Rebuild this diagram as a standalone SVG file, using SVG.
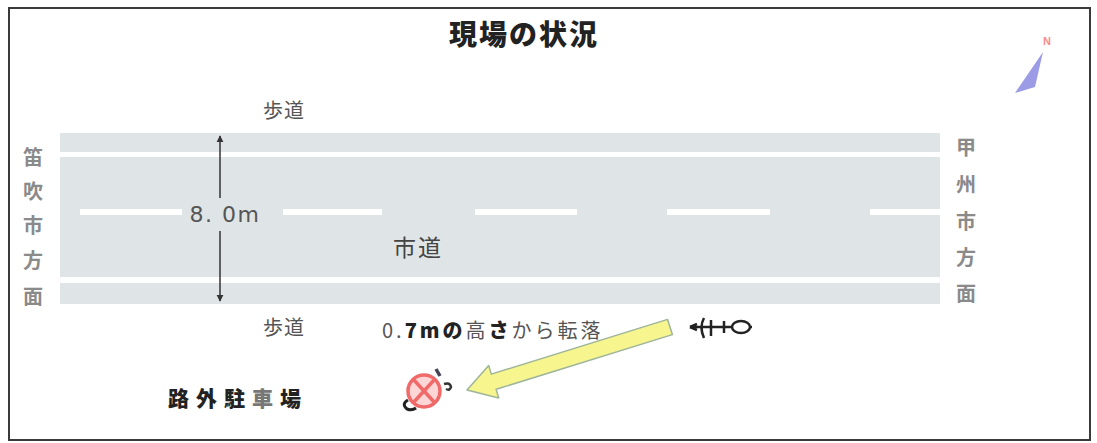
<svg xmlns="http://www.w3.org/2000/svg" width="1097" height="443" viewBox="0 0 1097 443">
  <defs>
    <style>
      .jp { font-family: "Noto Sans CJK JP", "Noto Sans", sans-serif; }
      .label { fill: #555; font-size: 20px; }
      .side { fill: #8a8a8a; font-size: 20px; font-weight: bold; text-anchor: middle; }
      .band { fill: #dfe4e6; }
      .gap { fill: #ffffff; }
      .dash { fill: #ffffff; }
    </style>
    <marker id="tipDim" viewBox="0 0 10 10" refX="9" refY="5" markerWidth="7" markerHeight="8" orient="auto-start-reverse" markerUnits="userSpaceOnUse">
      <path d="M0,0 L10,5 L0,10 z" fill="#333"/>
    </marker>
  </defs>

  <rect width="1097" height="443" fill="#ffffff"/>
  <!-- outer frame -->
  <rect x="9" y="8" width="1081" height="432" fill="none" stroke="#3a3a3a" stroke-width="2"/>

  <!-- title -->
  <g id="title">
    <text class="jp" x="524" y="45" font-size="28" font-weight="900" fill="#222" text-anchor="middle" letter-spacing="2">現場の状況</text>
  </g>

  <!-- north mark -->
  <g id="north">
    <text x="1047" y="45" font-family="Liberation Sans, sans-serif" font-size="11" font-weight="bold" fill="#ff8a8a" text-anchor="middle">N</text>
    <polygon points="1043,52 1015,93 1035,87" fill="#9c9ce6"/>
  </g>

  <!-- road cross-section -->
  <g id="road">
    <rect class="band" x="60" y="133" width="880" height="19"/>
    <rect class="gap" x="60" y="152" width="880" height="5"/>
    <rect class="band" x="60" y="157" width="880" height="120"/>
    <rect class="gap" x="60" y="277" width="880" height="6"/>
    <rect class="band" x="60" y="283" width="880" height="21"/>
    <!-- centre line -->
    <rect class="dash" x="80" y="209" width="102" height="6"/>
    <rect class="dash" x="283" y="209" width="99" height="6"/>
    <rect class="dash" x="475" y="209" width="102" height="6"/>
    <rect class="dash" x="667" y="209" width="103" height="6"/>
    <rect class="dash" x="870" y="209" width="70" height="6"/>
  </g>

  <g id="sidewalk-top">
    <text class="jp label" x="284" y="118" text-anchor="middle" letter-spacing="1">歩道</text>
  </g>
  <g id="sidewalk-bottom">
    <text class="jp label" x="284" y="335" text-anchor="middle" letter-spacing="1">歩道</text>
  </g>
  <g id="city-road">
    <text class="jp" x="418" y="256" font-size="23" fill="#444" text-anchor="middle" letter-spacing="2">市道</text>
  </g>

  <g id="west">
    <text class="jp side" x="33" y="165">笛</text>
    <text class="jp side" x="33" y="199">吹</text>
    <text class="jp side" x="33" y="233">市</text>
    <text class="jp side" x="33" y="268">方</text>
    <text class="jp side" x="33" y="304">面</text>
  </g>
  <g id="east">
    <text class="jp side" x="966" y="155">甲</text>
    <text class="jp side" x="966" y="192">州</text>
    <text class="jp side" x="966" y="229">市</text>
    <text class="jp side" x="966" y="265">方</text>
    <text class="jp side" x="966" y="301">面</text>
  </g>

  <g id="fall-note">
    <text class="jp" x="382" y="338" font-size="20" fill="#555" letter-spacing="3">0.<tspan font-weight="900" fill="#222">7m</tspan><tspan font-weight="900" fill="#222">の</tspan>高<tspan font-weight="900" fill="#222">さ</tspan>から転落</text>
  </g>

  <g id="parking">
    <text class="jp" x="168" y="406" font-size="21" font-weight="900" fill="#222" letter-spacing="7">路外駐<tspan fill="#777">車</tspan>場</text>
  </g>

  <!-- motorcycle before the fall (top view) -->
  <g id="motorcycle" stroke="#222" fill="none" stroke-width="2.5">
    <line x1="690" y1="327" x2="752" y2="327"/>
    <path d="M704,318 Q699,327 704,338"/>
    <line x1="711" y1="320" x2="711" y2="336"/>
    <line x1="724" y1="321" x2="724" y2="333"/>
    <ellipse cx="741" cy="327" rx="9" ry="6" fill="#fff"/>
    <path d="M690,327 l7,-3 M690,327 l7,3"/>
  </g>

  <!-- fallen motorcycle in the parking lot -->
  <g id="crash">
    <circle cx="424" cy="391" r="16" fill="#ffd6d6" stroke="#f06a6a" stroke-width="3.5"/>
    <line x1="413" y1="379" x2="435" y2="403" stroke="#f06a6a" stroke-width="3.5"/>
    <line x1="435" y1="379" x2="413" y2="403" stroke="#f06a6a" stroke-width="3.5"/>
    <path d="M408,400 q-7,4 -1,9 q5,2 9,-1" fill="none" stroke="#222" stroke-width="3"/>
    <path d="M436,369 l4,7" stroke="#445" stroke-width="3.5"/>
    <path d="M444,384 q6,-2 7,3 q-1,4 -5,2" fill="none" stroke="#333" stroke-width="2.5"/>
  </g>

  <!-- connectors -->
  <g id="connectors">
    <!-- road width dimension -->
    <line x1="220" y1="136" x2="220" y2="198" stroke="#333" stroke-width="1.5" marker-start="url(#tipDim)"/>
    <line x1="220" y1="231" x2="220" y2="301" stroke="#333" stroke-width="1.5" marker-end="url(#tipDim)"/>
    <text x="225" y="222" font-family="DejaVu Sans, sans-serif" font-size="22" fill="#555" text-anchor="middle" letter-spacing="1.5">8. 0m</text>
    <!-- fall direction -->
    <polygon points="667.6,319.4 491.3,374.1 488.7,365.5 467,390 498.7,397.9 496.1,389.3 672.4,334.6" fill="#f6f58e" stroke="#9fb59a" stroke-width="1.5" stroke-linejoin="round"/>
  </g>
</svg>
